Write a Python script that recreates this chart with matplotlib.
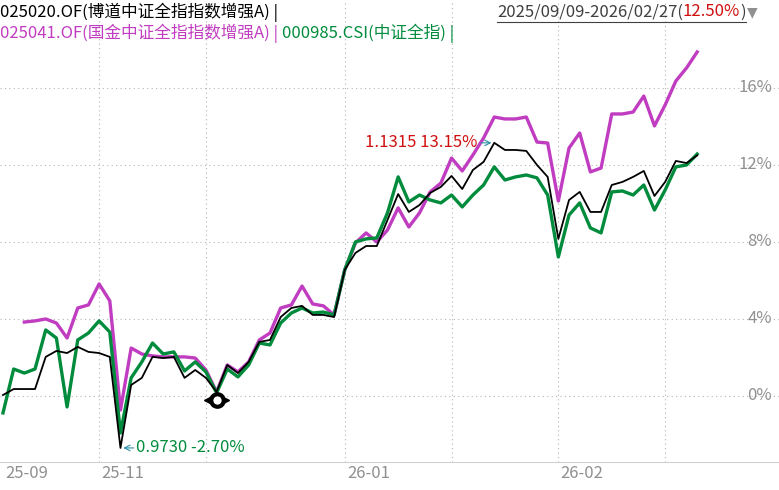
import matplotlib
matplotlib.use('Agg')
import matplotlib.pyplot as plt
from matplotlib.transforms import offset_copy

plt.rcParams['font.family'] = ['Noto Sans CJK SC', 'DejaVu Sans']

# cumulative return (%), one value per trading sample
black_vals = [0.05, 0.36, 0.36, 0.36, 2.03, 2.34, 2.23, 2.55, 2.29, 2.23,
              2.03, -2.70, 0.57, 0.94, 2.03, 1.97, 2.03, 0.94, 1.35, 0.94,
              0.21, 1.61, 1.19, 1.77, 2.81, 2.91, 4.10, 4.57, 4.68, 4.21,
              4.21, 4.10, 6.55, 7.43, 7.79, 7.79, 9.14, 10.49, 9.56, 9.92,
              10.55, 10.86, 11.43, 10.75, 11.74, 12.16, 13.15, 12.78, 12.78, 12.73,
              12.00, 11.38, 8.16, 10.18, 10.60, 9.56, 9.56, 10.96, 11.12, 11.38,
              11.69, 10.39, 11.12, 12.21, 12.10, 12.50]
green_vals = [-0.88, 1.40, 1.19, 1.40, 3.43, 3.01, -0.57, 2.91, 3.27, 3.90,
              3.32, -1.92, 0.94, 1.77, 2.75, 2.18, 2.29, 1.30, 1.77, 1.25,
              0.16, 1.40, 0.99, 1.61, 2.75, 2.65, 3.79, 4.31, 4.57, 4.31,
              4.36, 4.21, 6.55, 8.00, 8.16, 8.21, 9.51, 11.38, 10.08, 10.44,
              10.18, 10.03, 10.44, 9.82, 10.44, 10.96, 11.90, 11.22, 11.38, 11.48,
              11.33, 10.44, 7.22, 9.40, 10.03, 8.73, 8.47, 10.60, 10.65, 10.44,
              10.96, 9.66, 10.70, 11.90, 12.00, 12.57]
# purple series starts at sample 2
purple_start = 2
purple_vals = [3.84, 3.90, 4.00, 3.79, 3.01, 4.57, 4.73, 5.82, 4.94, -0.73,
               2.49, 2.18, 2.08, 2.03, 2.03, 2.03, 1.97, 1.35, 0.21, 1.61,
               1.25, 1.77, 2.91, 3.27, 4.57, 4.73, 5.71, 4.78, 4.68, 4.21,
               6.55, 7.95, 8.47, 8.00, 8.62, 9.77, 8.78, 9.51, 10.60, 11.06,
               12.36, 11.69, 12.52, 13.40, 14.49, 14.39, 14.39, 14.49, 13.19, 13.14,
               10.13, 12.88, 13.66, 11.64, 11.84, 14.65, 14.65, 14.75, 15.58, 14.03,
               15.12, 16.36, 17.04, 17.87]

month_labels = ['25-09', '25-11', '26-01', '26-02']
month_pos = [0, 9, 32, 52]
vgrid_pos = [9, 19, 32, 42, 52, 62]
ytick_vals = [0, 4, 8, 12, 16]

PURPLE = '#c03cc0'
GREEN = '#008c3c'
GRID = '#b4b4b4'
FS = 12

fig = plt.figure(figsize=(7.79, 4.9), dpi=100)
ax = fig.add_axes([0, 28 / 490, 1, 462 / 490])
ax.set_xlim(-0.28, 72.66)
ax.set_ylim(-3.43, 20.57)
for s in ax.spines.values():
    s.set_visible(False)
ax.spines['bottom'].set_visible(True)
ax.spines['bottom'].set_color('#d0d0d0')
ax.set_yticks([])
ax.set_xticks([])

for y in ytick_vals:
    ax.axhline(y, color=GRID, lw=0.8, ls=(0, (1, 3)))
    ax.text(72.0, y, f'{y}%', ha='right', va='center', fontsize=FS, color='#909090')
for x in vgrid_pos:
    ax.axvline(x, color=GRID, lw=0.8, ls=(0, (1, 3)))

xs = list(range(len(black_vals)))
px = list(range(purple_start, purple_start + len(purple_vals)))
ax.plot(px, purple_vals, color=PURPLE, lw=2.4)
ax.plot(xs, green_vals, color=GREEN, lw=2.4)
ax.plot(xs, black_vals, color='black', lw=1.3)

# min / max annotations
imin = black_vals.index(min(black_vals))
imax = black_vals.index(max(black_vals))
ax.annotate('', xy=(imin, black_vals[imin]), xytext=(imin + 1.5, black_vals[imin]),
            arrowprops=dict(arrowstyle='->', color='#2a8fa8', lw=0.8))
ax.text(imin + 1.5, black_vals[imin], '0.9730 -2.70%', color=GREEN, fontsize=FS,
        va='center', ha='left')
ax.annotate('', xy=(imax, black_vals[imax]), xytext=(imax - 1.5, black_vals[imax]),
            arrowprops=dict(arrowstyle='->', color='#2a8fa8', lw=0.8))
ax.text(imax - 1.6, black_vals[imax], '1.1315 13.15%', color='#d01010', fontsize=FS,
        va='center', ha='right')

# cursor eye
ax.plot([20], [-0.2], marker='o', ms=9, mfc='white', mec='black', mew=3)
ax.plot([19.1], [-0.2], marker='<', ms=5, color='black')
ax.plot([20.9], [-0.2], marker='>', ms=5, color='black')

for lab, pos in zip(month_labels, month_pos):
    ax.text(pos + 0.2, -3.6, lab, ha='left', va='top', fontsize=FS, color='#909090')

# header, chained pieces
fig.canvas.draw()
rend = fig.canvas.get_renderer()


def chain(x_px, y_px, parts):
    for txt, col in parts:
        t = fig.text(x_px / 779, 1 - y_px / 490, txt, fontsize=FS, color=col,
                     va='center', ha='left')
        x_px += t.get_window_extent(rend).width
    return x_px


chain(0, 12, [('025020.OF(博道中证全指指数增强A) |', 'black')])
chain(0, 33, [('025041.OF(国金中证全指指数增强A) | ', PURPLE),
              ('000985.CSI(中证全指) |', GREEN)])
x0 = 497
x1 = chain(x0, 12, [('2025/09/09-2026/02/27(', '#404040'),
                    ('12.50%', '#d01010'), (')', '#404040')])
fig.add_artist(plt.Line2D([x0 / 779, x1 / 779], [1 - 22 / 490] * 2,
                          color='#404040', lw=0.8))
fig.text(x1 / 779 + 0.002, 1 - 12 / 490, '▼', fontsize=10, color='#909090',
         va='center', ha='left', family='DejaVu Sans')

fig.savefig('out.png', dpi=100)
